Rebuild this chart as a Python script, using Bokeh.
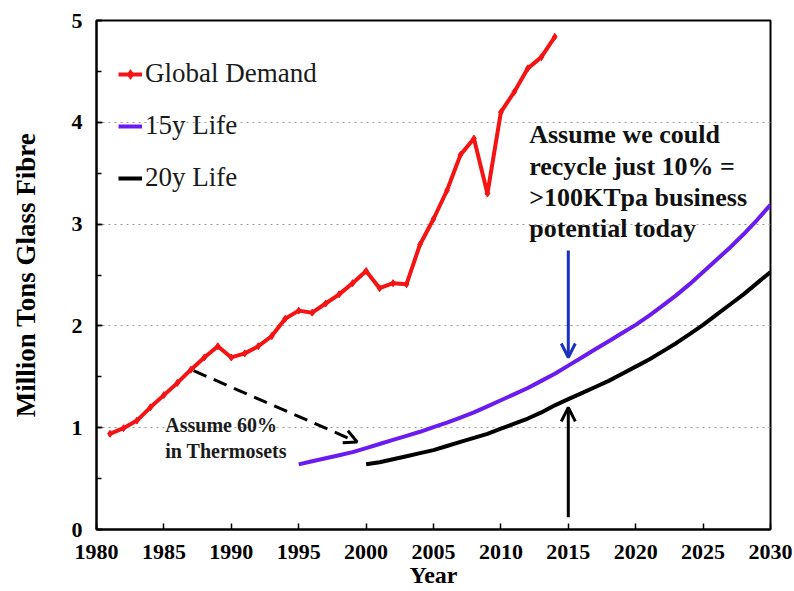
from bokeh.plotting import figure
from bokeh.models import (Legend, LegendItem, Arrow, OpenHead, SingleIntervalTicker,
                          Range1d, ColumnDataSource)
from bokeh.core.properties import value
from bokeh.embed import file_html
from bokeh.resources import INLINE

# ---- data ----
demand_years = list(range(1981, 2015))
demand_values = [0.94, 0.995, 1.07, 1.20, 1.32, 1.44, 1.57, 1.69, 1.80, 1.69,
                 1.73, 1.80, 1.90, 2.07, 2.15, 2.13, 2.22, 2.31, 2.42, 2.54,
                 2.37, 2.42, 2.41, 2.80, 3.05, 3.33, 3.68, 3.84, 3.30, 4.10,
                 4.30, 4.53, 4.64, 4.84]

life15_years = list(range(1995, 2031))
life15_values = [0.64, 0.67, 0.70, 0.73, 0.76, 0.80, 0.84, 0.88, 0.92, 0.96,
                 1.005, 1.05, 1.10, 1.15, 1.21, 1.27, 1.33, 1.39, 1.46, 1.53,
                 1.61, 1.69, 1.77, 1.85, 1.93, 2.01, 2.10, 2.20, 2.30, 2.41,
                 2.53, 2.65, 2.77, 2.90, 3.04, 3.19]

life20_years = list(range(2000, 2031))
life20_values = [0.64, 0.66, 0.69, 0.72, 0.75, 0.78, 0.82, 0.86, 0.90, 0.94,
                 0.99, 1.04, 1.09, 1.15, 1.22, 1.28, 1.34, 1.40, 1.46, 1.53,
                 1.60, 1.67, 1.75, 1.83, 1.92, 2.01, 2.11, 2.21, 2.31, 2.42,
                 2.53]

series_labels = ["Global Demand", "15y Life", "20y Life"]
x_label = "Year"
y_label = "Million Tons Glass Fibre"
note_left = "Assume 60%\nin Thermosets"
note_right = "Assume we could\nrecycle just 10% =\n>100KTpa business\npotential today"

RED = "#f51414"
PURPLE = "#6a1cf0"
BLUE = "#1a30c0"
SERIF = "Liberation Serif"

p = figure(width=794, height=591, output_backend="svg", toolbar_location=None,
           x_range=Range1d(1980, 2030), y_range=Range1d(0, 5))
p.min_border_left = 96
p.min_border_right = 24
p.min_border_top = 20
p.min_border_bottom = 62
p.outline_line_color = "black"
p.outline_line_width = 2
p.background_fill_color = "white"
p.border_fill_color = "white"

# axes
p.xaxis.ticker = SingleIntervalTicker(interval=5, num_minor_ticks=0)
p.yaxis.ticker = SingleIntervalTicker(interval=1, num_minor_ticks=2)
for ax in (p.xaxis[0], p.yaxis[0]):
    ax.axis_line_color = "black"
    ax.axis_line_width = 2
    ax.major_tick_in = 6
    ax.major_tick_out = 0
    ax.major_tick_line_width = 1.5
    ax.minor_tick_in = 5
    ax.minor_tick_out = 0
    ax.minor_tick_line_width = 1.5
    ax.major_label_text_font = SERIF
    ax.major_label_text_font_style = "bold"
    ax.major_label_text_font_size = "22px"
    ax.major_label_text_color = "black"
    ax.axis_label_text_font = SERIF
    ax.axis_label_text_font_style = "bold"
    ax.axis_label_text_color = "black"
p.xaxis.axis_label_text_font_size = "24px"
p.yaxis.axis_label_text_font_size = "27px"
p.xaxis.minor_tick_line_color = None
p.xaxis.major_label_standoff = 15
p.yaxis.major_label_standoff = 14
p.xaxis.axis_label = x_label
p.yaxis.axis_label = y_label
p.xaxis.axis_label_standoff = 0
p.yaxis.axis_label_standoff = 28

p.xgrid.grid_line_color = None
p.ygrid.grid_line_color = "#999999"
p.ygrid.grid_line_dash = "dotted"
p.ygrid.grid_line_width = 1

# series
src_d = ColumnDataSource(dict(x=demand_years, y=demand_values))
src_15 = ColumnDataSource(dict(x=life15_years, y=life15_values))
src_20 = ColumnDataSource(dict(x=life20_years, y=life20_values))

l_d = p.line("x", "y", source=src_d, line_color=RED, line_width=4)
m_d = p.scatter("x", "y", source=src_d, marker="diamond", size=7, color=RED)
l_15 = p.line("x", "y", source=src_15, line_color=PURPLE, line_width=4)
l_20 = p.line("x", "y", source=src_20, line_color="black", line_width=4)

legend = Legend(items=[LegendItem(label=series_labels[0], renderers=[l_d, m_d]),
                       LegendItem(label=series_labels[1], renderers=[l_15]),
                       LegendItem(label=series_labels[2], renderers=[l_20])],
                location=(22, 336))
legend.border_line_color = None
legend.background_fill_alpha = 0
legend.padding = 0
legend.margin = 0
legend.spacing = 21
legend.label_height = 30
legend.glyph_height = 30
legend.glyph_width = 24
legend.label_standoff = 3
legend.label_text_font = SERIF
legend.label_text_font_size = "27px"
legend.label_text_color = "#1a1a1a"
p.add_layout(legend)

# annotations
p.add_layout(Arrow(end=OpenHead(size=13, line_width=3, line_color="black"),
                   x_start=1987.2, y_start=1.56, x_end=1999.34, y_end=0.86,
                   line_color="black", line_width=3, line_dash="14 8"))
p.add_layout(Arrow(end=OpenHead(size=14, line_width=3, line_color=BLUE),
                   x_start=2015, y_start=2.74, x_end=2015, y_end=1.69,
                   line_color=BLUE, line_width=3))
p.add_layout(Arrow(end=OpenHead(size=14, line_width=3, line_color="black"),
                   x_start=2015, y_start=0.12, x_end=2015, y_end=1.20,
                   line_color="black", line_width=3))

p.text(x=[1985.1], y=[1.13], text=[note_left], text_font=value(SERIF),
       text_font_style="bold", text_font_size="20px", text_color="#1a1a1a",
       text_baseline="top", text_align="left", text_line_height=1.15)
p.text(x=[2012.1], y=[4.02], text=[note_right], text_font=value(SERIF),
       text_font_style="bold", text_font_size="26px", text_color="#111111",
       text_baseline="top", text_align="left", text_line_height=1.08)

open("out.html", "w").write(file_html(p, INLINE))
